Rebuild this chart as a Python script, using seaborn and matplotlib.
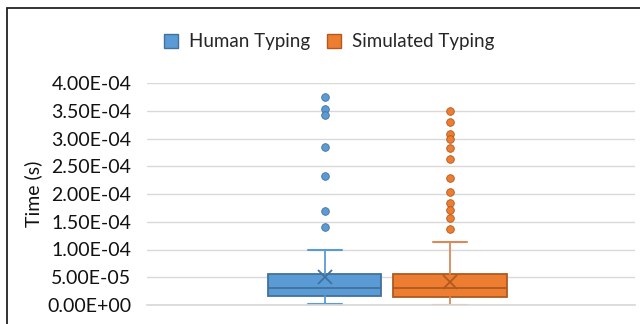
import matplotlib
matplotlib.use("Agg")
import matplotlib.pyplot as plt
import seaborn as sns
from matplotlib.patches import Patch, Rectangle
from matplotlib.ticker import FuncFormatter

# summary values (seconds)
series = ["Human Typing", "Simulated Typing"]
whisker_low = [0.2e-5, 0.0]
q1 = [1.6e-5, 1.45e-5]
median = [3.0e-5, 3.05e-5]
q3 = [5.5e-5, 5.6e-5]
whisker_high = [10.0e-5, 11.3e-5]
means = [5.0e-5, 4.2e-5]
human_outliers = [3.74e-4, 3.53e-4, 3.42e-4, 2.85e-4, 2.33e-4, 1.70e-4, 1.40e-4]
sim_outliers = [3.50e-4, 3.29e-4, 3.08e-4, 2.99e-4, 2.82e-4, 2.63e-4,
                2.28e-4, 2.04e-4, 1.84e-4, 1.71e-4, 1.56e-4, 1.37e-4]
yticks = [0, 5e-5, 1e-4, 1.5e-4, 2e-4, 2.5e-4, 3e-4, 3.5e-4, 4e-4]

FILL = ["#5B9BD5", "#ED7D31"]
EDGE = ["#41719C", "#AE5A21"]
WHISK = ["#5B9BD5", "#D9895A"]

sns.set_theme(style="white")
plt.rcParams["font.family"] = ["Lato", "DejaVu Sans"]

fig = plt.figure(figsize=(6.4, 3.24), dpi=100)
ax = fig.add_axes([146.7 / 640, 1 - 305 / 324, (635 - 146.7) / 640, (305 - 83) / 324])

fliers = [human_outliers, sim_outliers]
positions = [0.3645, 0.6208]
for i in range(2):
    st = {"label": series[i], "whislo": whisker_low[i], "q1": q1[i], "med": median[i],
          "q3": q3[i], "whishi": whisker_high[i], "mean": means[i], "fliers": fliers[i]}
    ax.bxp([st], positions=[positions[i]], widths=0.2324, capwidths=0.07,
           patch_artist=True, showmeans=True, manage_ticks=False,
           boxprops=dict(facecolor=FILL[i], edgecolor=EDGE[i], linewidth=1.3),
           medianprops=dict(color=EDGE[i], linewidth=1.3),
           whiskerprops=dict(color=WHISK[i], linewidth=1.3),
           capprops=dict(color=WHISK[i], linewidth=1.5),
           meanprops=dict(marker="x", markeredgecolor=EDGE[i], markersize=10, markeredgewidth=1.3),
           flierprops=dict(marker="o", markerfacecolor=FILL[i], markeredgecolor=EDGE[i],
                           markersize=5.5, markeredgewidth=0.6))

ax.set_xlim(0, 1)
ax.set_ylim(0, 4e-4)
ax.set_yticks(yticks)
ax.yaxis.set_major_formatter(FuncFormatter(lambda v, p: f"{v:.2E}"))
ax.set_xticks([])
ax.grid(axis="y", color="#D9D9D9", linewidth=1.0)
ax.set_axisbelow(True)
for s in ["left", "right", "top"]:
    ax.spines[s].set_visible(False)
ax.spines["bottom"].set_color("#D9D9D9")
ax.tick_params(axis="y", length=0, labelsize=14, labelcolor="#111111", pad=11)
ax.set_ylabel("Time (s)", fontsize=14, color="#111111", labelpad=4)

handles = [Patch(facecolor=FILL[i], edgecolor=EDGE[i], label=series[i]) for i in range(2)]
fig.legend(handles=handles, loc="center", bbox_to_anchor=(329 / 640, 1 - 42 / 324), ncol=2,
           frameon=False, fontsize=13.5, handlelength=0.75, handleheight=0.75,
           handletextpad=0.6, columnspacing=0.9)

# chart border (only top/left visible in the reference)
fig.patches.append(Rectangle((7 / 640, -0.1), 2, 1.1 - 8 / 324, transform=fig.transFigure,
                             fill=False, edgecolor="#222222", linewidth=1.3))

fig.savefig("out.png", dpi=100)
